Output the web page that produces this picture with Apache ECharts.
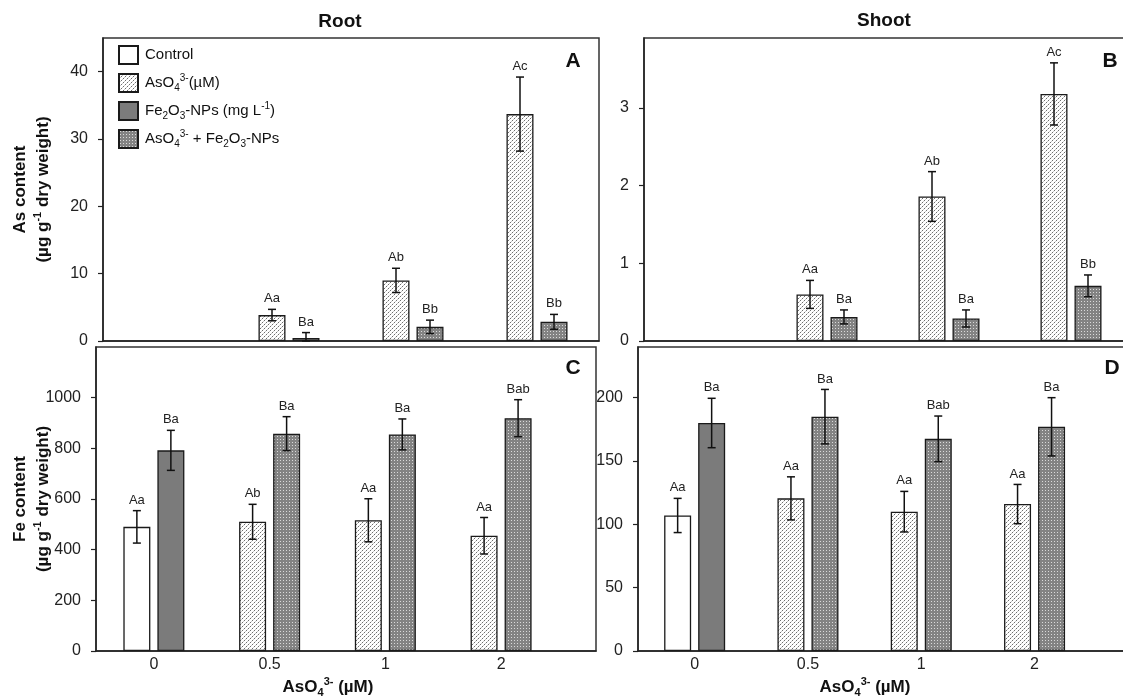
<!DOCTYPE html>
<html>
<head>
<meta charset="utf-8">
<script src="https://cdn.jsdelivr.net/npm/echarts@6/dist/echarts.min.js"></script>
<style>
html, body { margin: 0; padding: 0; background: #fff; }
#main { width: 1123px; height: 698px; }
</style>
</head>
<body>
<div id="main"></div>
<script>
var myChart = echarts.init(document.getElementById('main'));

// x groups (AsO4 3- concentration, uM)
var groups = ['0', '0.5', '1', '2'];

// Panel A - As content, root
var aCtrl = [null, null, null, null];
var aCtrlErr = [0, 0, 0, 0];
var aFe = [null, null, null, null];
var aFeErr = [0, 0, 0, 0];
var aAs = [null, 3.85, 9.0, 33.7];
var aAsErr = [0, 0.85, 1.8, 5.5];
var aMix = [null, 0.45, 2.1, 2.85];
var aMixErr = [0, 0.8, 1.0, 1.1];
var aLeftSig = ['', 'Aa', 'Ab', 'Ac'];
var aRightSig = ['', 'Ba', 'Bb', 'Bb'];

// Panel B - As content, shoot
var bCtrl = [null, null, null, null];
var bCtrlErr = [0, 0, 0, 0];
var bFe = [null, null, null, null];
var bFeErr = [0, 0, 0, 0];
var bAs = [null, 0.60, 1.86, 3.18];
var bAsErr = [0, 0.18, 0.32, 0.40];
var bMix = [null, 0.31, 0.29, 0.71];
var bMixErr = [0, 0.09, 0.11, 0.14];
var bLeftSig = ['', 'Aa', 'Ab', 'Ac'];
var bRightSig = ['', 'Ba', 'Ba', 'Bb'];

// Panel C - Fe content, root
var cCtrl = [490, null, null, null];
var cCtrlErr = [64, 0, 0, 0];
var cFe = [792, null, null, null];
var cFeErr = [79, 0, 0, 0];
var cAs = [null, 510, 516, 455];
var cAsErr = [0, 69, 85, 72];
var cMix = [null, 858, 855, 919];
var cMixErr = [0, 67, 61, 73];
var cLeftSig = ['Aa', 'Ab', 'Aa', 'Aa'];
var cRightSig = ['Ba', 'Ba', 'Ba', 'Bab'];

// Panel D - Fe content, shoot
var dCtrl = [107, null, null, null];
var dCtrlErr = [13.5, 0, 0, 0];
var dFe = [180, null, null, null];
var dFeErr = [19.5, 0, 0, 0];
var dAs = [null, 120.5, 110, 116];
var dAsErr = [0, 17, 16, 15.5];
var dMix = [null, 185, 167.5, 177];
var dMixErr = [0, 21.5, 18, 23];
var dLeftSig = ['Aa', 'Aa', 'Aa', 'Aa'];
var dRightSig = ['Ba', 'Ba', 'Bab', 'Ba'];

// y tick values
var aTicks = [0, 10, 20, 30, 40];
var bTicks = [0, 1, 2, 3];
var cTicks = [0, 200, 400, 600, 800, 1000];
var dTicks = [0, 50, 100, 150, 200];

var panels = [
    { ctrl: aCtrl, ctrlErr: aCtrlErr, fe: aFe, feErr: aFeErr, as: aAs, asErr: aAsErr, mix: aMix, mixErr: aMixErr, leftSig: aLeftSig, rightSig: aRightSig, ticks: aTicks, yMax: 45 },
    { ctrl: bCtrl, ctrlErr: bCtrlErr, fe: bFe, feErr: bFeErr, as: bAs, asErr: bAsErr, mix: bMix, mixErr: bMixErr, leftSig: bLeftSig, rightSig: bRightSig, ticks: bTicks, yMax: 3.9 },
    { ctrl: cCtrl, ctrlErr: cCtrlErr, fe: cFe, feErr: cFeErr, as: cAs, asErr: cAsErr, mix: cMix, mixErr: cMixErr, leftSig: cLeftSig, rightSig: cRightSig, ticks: cTicks, yMax: 1200 },
    { ctrl: dCtrl, ctrlErr: dCtrlErr, fe: dFe, feErr: dFeErr, as: dAs, asErr: dAsErr, mix: dMix, mixErr: dMixErr, leftSig: dLeftSig, rightSig: dRightSig, ticks: dTicks, yMax: 240 }
];

// grid boxes (A, B, C, D) and x ranges
var grids = [
    { left: 103, top: 38, width: 496, height: 303 },
    { left: 644, top: 38, width: 488, height: 303 },
    { left: 96, top: 347, width: 500, height: 304 },
    { left: 638, top: 347, width: 494, height: 304 }
];
var xRanges = [[-0.5, 3.5], [-0.5, 3.5], [-0.5, 3.82], [-0.5, 3.86]];
var nameGaps = [48, 0, 41, 0];

var BAR_W = 27;
var HALF = 17; // distance from group centre to bar centre

// small dotted fills
function makePattern(size, bg, dots) {
    var c = document.createElement('canvas');
    c.width = size;
    c.height = size;
    var ctx = c.getContext('2d');
    ctx.fillStyle = bg;
    ctx.fillRect(0, 0, size, size);
    dots.forEach(function (d) {
        ctx.fillStyle = d[2];
        ctx.fillRect(d[0], d[1], 1, 1);
    });
    return c;
}
var asFill = { image: makePattern(4, '#ffffff', [[0, 0, '#6e6e6e'], [2, 2, '#6e6e6e'], [3, 1, '#c8c8c8'], [1, 3, '#c8c8c8']]), repeat: 'repeat' };
var mixFill = { image: makePattern(3, '#838383', [[1, 1, '#dadada']]), repeat: 'repeat' };
var feFill = '#7b7b7b';
var ctrlFill = '#ffffff';

var font = '"Liberation Sans", Arial, sans-serif';

function pairs(arr) {
    return arr.map(function (v, k) { return [k, v == null ? '-' : v]; });
}

function barSeries(name, data, fill, stack, i) {
    return {
        name: name,
        type: 'bar',
        xAxisIndex: i,
        yAxisIndex: i,
        stack: stack + i,
        barWidth: BAR_W,
        barGap: '26%',
        data: pairs(data),
        itemStyle: { color: fill, borderColor: '#1a1a1a', borderWidth: 1.3 },
        emphasis: { disabled: true }
    };
}

function errSeries(p, i) {
    var rows = [];
    var sig = [];
    groups.forEach(function (g, k) {
        var lv = p.ctrl[k] != null ? p.ctrl[k] : p.as[k];
        var le = p.ctrl[k] != null ? p.ctrlErr[k] : p.asErr[k];
        if (lv != null) { rows.push([k, lv, le, -1]); sig.push(p.leftSig[k]); }
        var rv = p.fe[k] != null ? p.fe[k] : p.mix[k];
        var re = p.fe[k] != null ? p.feErr[k] : p.mixErr[k];
        if (rv != null) { rows.push([k, rv, re, 1]); sig.push(p.rightSig[k]); }
    });
    return {
        type: 'custom',
        xAxisIndex: i,
        yAxisIndex: i,
        z: 5,
        clip: false,
        silent: true,
        data: rows,
        renderItem: function (params, api) {
            var x = api.value(0), v = api.value(1), e = api.value(2), side = api.value(3);
            var top = api.coord([x, v + e]);
            var bot = api.coord([x, Math.max(v - e, 0)]);
            var cx = top[0] + side * HALF;
            var st = { stroke: '#111', lineWidth: 1.5 };
            return {
                type: 'group',
                children: [
                    { type: 'line', shape: { x1: cx, y1: top[1], x2: cx, y2: bot[1] }, style: st },
                    { type: 'line', shape: { x1: cx - 4, y1: top[1], x2: cx + 4, y2: top[1] }, style: st },
                    { type: 'line', shape: { x1: cx - 4, y1: bot[1], x2: cx + 4, y2: bot[1] }, style: st },
                    {
                        type: 'text', x: cx, y: top[1] - 4,
                        style: { text: sig[params.dataIndex], fill: '#222', font: '13px ' + font, align: 'center', verticalAlign: 'bottom' }
                    }
                ]
            };
        }
    };
}

var series = [];
panels.forEach(function (p, i) {
    series.push(barSeries('Control', p.ctrl, ctrlFill, 'L', i));
    series.push(barSeries('AsO4', p.as, asFill, 'L', i));
    series.push(barSeries('Fe2O3', p.fe, feFill, 'R', i));
    series.push(barSeries('Mix', p.mix, mixFill, 'R', i));
    series.push(errSeries(p, i));
});

var subSup = {
    sub: { fontSize: 10, verticalAlign: 'bottom', fontFamily: font, color: '#111' },
    sup: { fontSize: 10, verticalAlign: 'top', fontFamily: font, color: '#111' }
};
var boldSubSup = {
    sub: { fontSize: 11, fontWeight: 'bold', verticalAlign: 'bottom', fontFamily: font, color: '#111' },
    sup: { fontSize: 11, fontWeight: 'bold', verticalAlign: 'top', fontFamily: font, color: '#111' }
};

var legendText = {
    'Control': 'Control',
    'AsO4': 'AsO{sub|4}{sup|3-}(\u00b5M)',
    'Fe2O3': 'Fe{sub|2}O{sub|3}-NPs (mg L{sup|-1})',
    'Mix': 'AsO{sub|4}{sup|3-} + Fe{sub|2}O{sub|3}-NPs'
};

var yNames = [
    'As content\n(\u00b5g g{sup|-1} dry weight)',
    '',
    'Fe content\n(\u00b5g g{sup|-1} dry weight)',
    ''
];

var option = {
    animation: false,
    textStyle: { fontFamily: font },
    title: [
        { text: 'Root', left: 340, top: 12, textAlign: 'center', padding: 0, textStyle: { fontSize: 19, fontWeight: 'bold', color: '#111', fontFamily: font } },
        { text: 'Shoot', left: 884, top: 11, textAlign: 'center', padding: 0, textStyle: { fontSize: 19, fontWeight: 'bold', color: '#111', fontFamily: font } },
        { text: 'A', left: 573, top: 51, textAlign: 'center', padding: 0, textStyle: { fontSize: 21, fontWeight: 'bold', color: '#111', fontFamily: font } },
        { text: 'B', left: 1110, top: 51, textAlign: 'center', padding: 0, textStyle: { fontSize: 21, fontWeight: 'bold', color: '#111', fontFamily: font } },
        { text: 'C', left: 573, top: 358, textAlign: 'center', padding: 0, textStyle: { fontSize: 21, fontWeight: 'bold', color: '#111', fontFamily: font } },
        { text: 'D', left: 1112, top: 358, textAlign: 'center', padding: 0, textStyle: { fontSize: 21, fontWeight: 'bold', color: '#111', fontFamily: font } },
        { text: 'AsO{sub|4}{sup|3-} (\u00b5M)', left: 328, top: 676, textAlign: 'center', padding: 0, textStyle: { fontSize: 17, fontWeight: 'bold', color: '#111', fontFamily: font, lineHeight: 22, rich: boldSubSup } },
        { text: 'AsO{sub|4}{sup|3-} (\u00b5M)', left: 865, top: 676, textAlign: 'center', padding: 0, textStyle: { fontSize: 17, fontWeight: 'bold', color: '#111', fontFamily: font, lineHeight: 22, rich: boldSubSup } }
    ],
    legend: {
        orient: 'vertical',
        left: 118,
        top: 45,
        padding: 0,
        itemWidth: 19,
        itemHeight: 18,
        itemGap: 8,
        icon: 'rect',
        selectedMode: false,
        data: ['Control', 'AsO4', 'Fe2O3', 'Mix'],
        formatter: function (name) { return legendText[name]; },
        textStyle: { fontSize: 15, color: '#111', fontFamily: font, lineHeight: 20, padding: [0, 0, 0, 2], rich: subSup }
    },
    grid: grids.map(function (g) {
        return {
            left: g.left, top: g.top, width: g.width, height: g.height,
            outerBoundsMode: 'none',
            containLabel: false,
            show: true, borderColor: '#333', borderWidth: 1.5, backgroundColor: 'transparent'
        };
    }),
    xAxis: grids.map(function (g, i) {
        return {
            type: 'value',
            gridIndex: i,
            min: xRanges[i][0],
            max: xRanges[i][1],
            axisLine: { show: true, onZero: false, lineStyle: { color: '#222', width: 1.5 } },
            axisTick: { show: false },
            splitLine: { show: false },
            axisLabel: {
                show: i >= 2,
                customValues: [0, 1, 2, 3],
                formatter: function (v) { return groups[Math.round(v)]; },
                fontSize: 16, color: '#222', margin: 6, fontFamily: font
            }
        };
    }),
    yAxis: panels.map(function (p, i) {
        return {
            type: 'value',
            gridIndex: i,
            min: 0,
            max: p.yMax,
            name: yNames[i],
            nameLocation: 'middle',
            nameRotate: 90,
            nameGap: nameGaps[i],
            nameMoveOverlap: false,
            nameTextStyle: { fontSize: 17, fontWeight: 'bold', color: '#111', lineHeight: 23, fontFamily: font, rich: boldSubSup },
            axisLine: { show: true, onZero: false, lineStyle: { color: '#222', width: 1.5 } },
            axisTick: { show: true, length: 5, customValues: p.ticks, lineStyle: { color: '#222', width: 1.2 } },
            splitLine: { show: false },
            axisLabel: {
                customValues: p.ticks,
                formatter: function (v) { return String(v); },
                fontSize: 16, color: '#222', margin: 15, fontFamily: font
            }
        };
    }),
    series: series
};

option && myChart.setOption(option);
</script>
</body>
</html>
